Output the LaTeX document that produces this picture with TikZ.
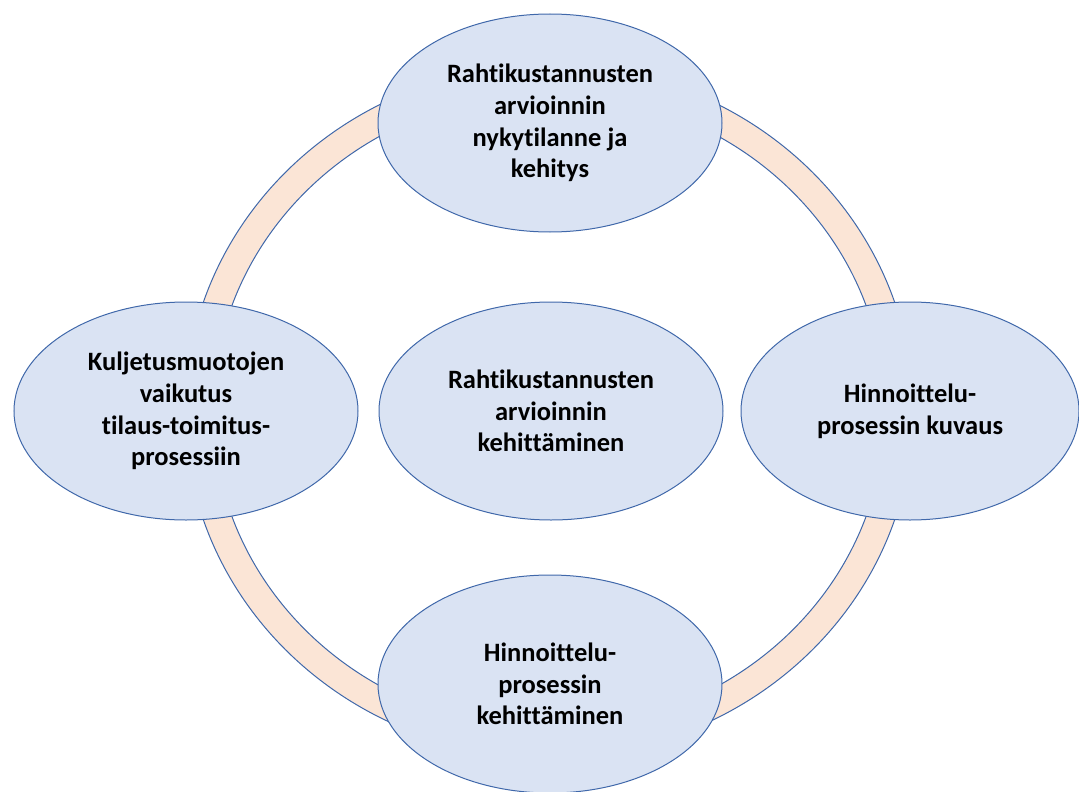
\documentclass[tikz,border=0pt]{standalone}
\usepackage{fontspec}
\setmainfont{Carlito}[Ligatures=NoCommon]
\usepackage{tikz}
\usetikzlibrary{shapes.geometric}
\definecolor{ellfill}{RGB}{218,227,243}
\definecolor{ellline}{RGB}{64,104,170}
\definecolor{ringfill}{RGB}{251,229,214}
\tikzset{
  topic/.style={ellipse, draw=ellline, fill=ellfill, line width=1pt,
    minimum width=344pt, minimum height=218pt, inner sep=0pt,
    align=center, font=\fontsize{26.5pt}{31.7pt}\selectfont\bfseries},
  ring/.style={draw=ellline, fill=ringfill, line width=1pt, even odd rule}
}
\begin{document}
\begin{tikzpicture}[x=1pt, y=-1pt]
  \path[use as bounding box, clip] (0,0) rectangle (1079,792);

  % Ring behind the topics
  \coordinate (ringc) at (549,411);
  \path[ring] (ringc) ellipse [x radius=364pt, y radius=346pt]
              (ringc) ellipse [x radius=336pt, y radius=318pt];

  % Topics
  \node[topic] (nykytila) at (550,123) {Rahtikustannusten\\arvioinnin\\nykytilanne ja\\kehitys};
  \node[topic] (kuljetus) at (186,411) {Kuljetusmuotojen\\vaikutus\\tilaus-toimitus-\\prosessiin};
  \node[topic] (kehitys) at (551,411) {Rahtikustannusten\\arvioinnin\\kehittäminen};
  \node[topic, minimum width=338pt] (kuvaus) at (910,411) {Hinnoittelu-\\prosessin kuvaus};
  \node[topic] (kehittaminen) at (550,684) {Hinnoittelu-\\prosessin\\kehittäminen};
\end{tikzpicture}
\end{document}
